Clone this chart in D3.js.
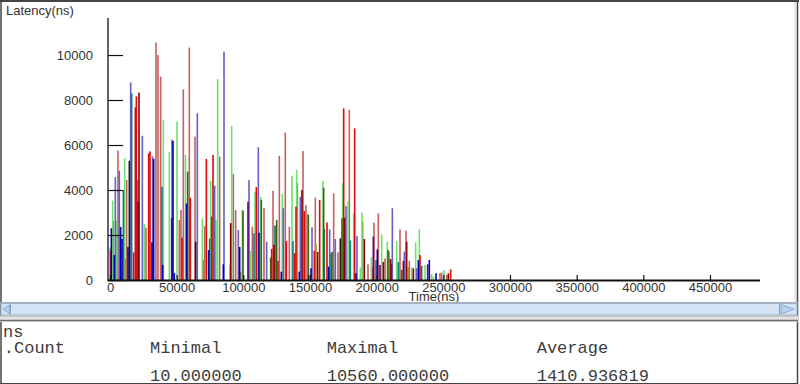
<!DOCTYPE html>
<html>
<head>
<meta charset="utf-8">
<script src="https://cdn.jsdelivr.net/npm/d3@7"></script>
<style>
html,body{margin:0;padding:0;background:#fff;}
svg{display:block;}
</style>
</head>
<body>
<svg id="chart" width="800" height="384"></svg>
<script>
// ---- data: [time (ns), latency (ns)] per series ----
const red = [[500,1300],[17750,1230],[19000,7670],[19750,8160],[29000,5630],[30000,5720],[54000,1880],[60250,3660],[72250,5380],[77250,5560],[109750,4130],[121250,1380],[126000,850],[132250,1730],[138500,1190],[139500,3260],[145750,3070],[153250,1300],[157250,3560],[162750,2560],[175250,7630],[183500,6740],[211000,700],[232500,1110],[255500,470]];
const rose = [[2500,2620],[6000,5750],[12500,4440],[20750,4440],[27000,2320],[34500,10560],[36000,10000],[38000,9040],[52000,2670],[53250,3110],[55000,8470],[59500,10330],[63750,6370],[71000,2400],[82250,5490],[92500,4710],[94250,3110],[106750,2370],[115500,3210],[122250,3960],[127000,5520],[131500,6550],[134500,2370],[140500,4300],[144750,5730],[147000,3330],[154000,3660],[167750,3850],[171000,1230],[179500,7560],[189500,2600],[193500,700],[197000,570],[198000,2550],[201250,2960],[206250,960],[209250,1260],[217500,2250],[222000,2190],[224500,850],[247500,300],[248750,330],[252500,220]];
const green = [[0,1450],[2000,3530],[4750,2640],[11000,5410],[25750,2480],[40000,7110],[44500,5700],[50250,7040],[56600,5560],[69250,2740],[75500,4410],[79500,2660],[80750,8930],[90000,670],[91250,6840],[99250,3110],[105500,1290],[108750,3900],[113000,3690],[124000,2450],[129250,3820],[136500,4620],[140000,4890],[148250,2940],[159750,4400],[174500,4300],[178500,3500],[182750,2960],[187750,550],[189000,2990],[196000,1000],[203750,2030],[208000,1700],[215000,1730],[226250,560],[229250,1660],[232000,2250],[236250,670],[241250,260],[242500,150],[250500,440]];
const lavender = [[4000,4570],[7000,4860],[15500,8780],[24250,6410],[32000,5490],[46500,6230],[65500,7410],[78500,4190],[85500,10150],[96250,2220],[104250,4440],[111250,5900],[117500,1700],[130000,3190],[142750,3700],[151500,2340],[164750,2250],[169000,1820],[177000,3290],[185250,1960],[211750,3190],[220750,1260],[230000,520]];
const navy = [[1000,2300],[3250,1110],[8000,2360],[9000,1820],[13500,1470],[21250,3480],[31500,1680],[32750,5380],[39500,670],[47250,6180],[48250,310],[57400,3400],[74000,1330],[85000,700],[97250,1470],[111750,2100],[128500,370],[142000,370],[150750,520],[164000,590],[184500,300],[200500,1360],[231250,890],[239500,890],[244500,300]];
const darkred = [[21750,8330],[90500,2530],[123000,1560],[144000,4000],[155750,1250],[176000,2770],[190750,1820],[205000,800],[210500,920],[220000,850],[222500,1700],[227500,520],[253750,300]];
const black = [[14500,5300],[64250,1700],[149000,220],[172750,1850]];
const teal = [[10000,4000],[16250,8300],[39000,4150],[74750,1840],[108000,2070],[123750,2400],[137250,1730],[160750,2270],[165750,1190],[180250,1750],[199500,890],[216250,800],[233750,630]];
const darkgreen = [[58250,4820],[76250,2820],[99750,3080],[113500,3560],[120500,1000],[125000,2660],[148750,2900],[160250,4100],[166500,1250],[174000,2740],[208500,1330],[218750,450]];
const olive = [[11500,930],[70000,890],[98000,370],[154500,1590],[209750,960],[223750,580]];
const purple = [[46250,2750],[103500,3480],[197500,1930],[202500,670],[238250,700]];

const xTicks = [0,50000,100000,150000,200000,250000,300000,350000,400000,450000];
const yTicks = [0,2000,4000,6000,8000,10000];
const statHeaders = ["Minimal","Maximal","Average"];
const statValues = ["10.000000","10560.000000","1410.936819"];

// ---- styles ----
const seriesList = [
  {data: rose, color: "#c46060"},
  {data: green, color: "#6ee06e"},
  {data: lavender, color: "#6262c6"},
  {data: teal, color: "#088080"},
  {data: darkgreen, color: "#3a6410"},
  {data: olive, color: "#a8943c"},
  {data: purple, color: "#600078"},
  {data: red, color: "#e00808"},
  {data: navy, color: "#0000b8"},
  {data: darkred, color: "#8c0000"},
  {data: black, color: "#1c1c10"}
];

const svg = d3.select("#chart");
svg.append("rect").attr("width",800).attr("height",384).attr("fill","#fff");

const x = d3.scaleLinear().domain([0, 487500]).range([110, 760]);
const y = d3.scaleLinear().domain([0, 11650]).range([280, 17.9]);

// bars
const barsG = svg.append("g");
seriesList.forEach(s => {
  barsG.selectAll(null).data(s.data).enter().append("rect")
    .attr("x", d => x(d[0]) - 0.8)
    .attr("width", 1.6)
    .attr("y", d => y(d[1]))
    .attr("height", d => y(0) - y(d[1]))
    .attr("fill", s.color);
});

// axes
const font = "'Liberation Sans', Arial, sans-serif";
const yAxis = d3.axisLeft(y).tickValues(yTicks).tickSizeInner(-15).tickSizeOuter(0).tickPadding(15).tickFormat(d3.format("d"));
const gy = svg.append("g").attr("transform","translate(108,0)").call(yAxis);
gy.select(".domain").remove();
gy.selectAll(".tick line").attr("stroke","#111").attr("stroke-width",1.2);
gy.selectAll("text").attr("font-family",font).attr("font-size",13).attr("fill","#333");

const xAxis = d3.axisBottom(x).tickValues(xTicks).tickSizeInner(-5).tickSizeOuter(0).tickPadding(3).tickFormat(d3.format("d"));
const gx = svg.append("g").attr("transform","translate(0,280)").call(xAxis);
gx.select(".domain").remove();
gx.selectAll(".tick line").attr("stroke","#111").attr("stroke-width",1.2);
gx.selectAll("text").attr("font-family",font).attr("font-size",13).attr("fill","#333");

svg.append("line").attr("x1",108).attr("x2",108).attr("y1",y.range()[1]).attr("y2",y(0)+1)
  .attr("stroke","#111").attr("stroke-width",1.3);
svg.append("line").attr("x1",108).attr("x2",760).attr("y1",y(0)+0.5).attr("y2",y(0)+0.5)
  .attr("stroke","#111").attr("stroke-width",1.8);

svg.append("text").attr("x",6).attr("y",15).attr("font-family",font).attr("font-size",13).attr("fill","#333").text("Latency(ns)");
svg.append("text").attr("x",434).attr("y",300.5).attr("text-anchor","middle").attr("font-family",font).attr("font-size",13).attr("fill","#333").text("Time(ns)");

// frame
svg.append("line").attr("x1",0).attr("x2",799).attr("y1",1).attr("y2",1).attr("stroke","#444").attr("stroke-width",2);
svg.append("line").attr("x1",1).attr("x2",1).attr("y1",0).attr("y2",384).attr("stroke","#444").attr("stroke-width",1.5);
svg.append("line").attr("x1",795).attr("x2",795).attr("y1",2).attr("y2",302).attr("stroke","#d0d0d0").attr("stroke-width",1);
svg.append("line").attr("x1",797.5).attr("x2",797.5).attr("y1",0).attr("y2",384).attr("stroke","#444").attr("stroke-width",1.5);

// scrollbar
svg.append("line").attr("x1",0).attr("x2",798).attr("y1",302.5).attr("y2",302.5).attr("stroke","#b0b0b0");
svg.append("rect").attr("x",1).attr("y",303.5).attr("width",796).attr("height",11.5).attr("fill","#d4e4f7").attr("stroke","#9fb2c8").attr("stroke-width",1);
svg.append("line").attr("x1",10.5).attr("x2",10.5).attr("y1",304).attr("y2",315).attr("stroke","#8aa2c0");
svg.append("path").attr("d","M3,309.2 L9.5,305 L9.5,313.5 Z").attr("fill","#b6d0f0").attr("stroke","#7f9fc8").attr("stroke-width",0.8);
svg.append("line").attr("x1",779.5).attr("x2",779.5).attr("y1",304).attr("y2",315).attr("stroke","#8aa2c0");
svg.append("path").attr("d","M781,304.5 L794,309.2 L781,314 Z").attr("fill","#b6d0f0").attr("stroke","#7f9fc8").attr("stroke-width",0.8);

// separator
svg.append("rect").attr("x",0).attr("y",315.5).attr("width",798).attr("height",6.5).attr("fill","#e4e4e4");
svg.append("line").attr("x1",0).attr("x2",798).attr("y1",316).attr("y2",316).attr("stroke","#a8a8a8");
svg.append("line").attr("x1",0).attr("x2",798).attr("y1",320.5).attr("y2",320.5).attr("stroke","#6a6a6a").attr("stroke-width",1.6);
svg.append("line").attr("x1",0).attr("x2",798).attr("y1",383.5).attr("y2",383.5).attr("stroke","#444").attr("stroke-width",1.2);

// table
const mono = "'Liberation Mono', 'DejaVu Sans Mono', monospace";
const tg = svg.append("g").attr("font-family",mono).attr("font-size",17).attr("fill","#3c3c3c");
tg.append("text").attr("x",3).attr("y",337).text("ns");
tg.append("text").attr("x",3.8).attr("y",353).text(".Count");
const colX = [150, 326.7, 536.7];
tg.selectAll(null).data(statHeaders).enter().append("text").attr("x",(d,i)=>colX[i]).attr("y",353).text(d=>d);
tg.selectAll(null).data(statValues).enter().append("text").attr("x",(d,i)=>colX[i]).attr("y",381).text(d=>d);
</script>
</body>
</html>
